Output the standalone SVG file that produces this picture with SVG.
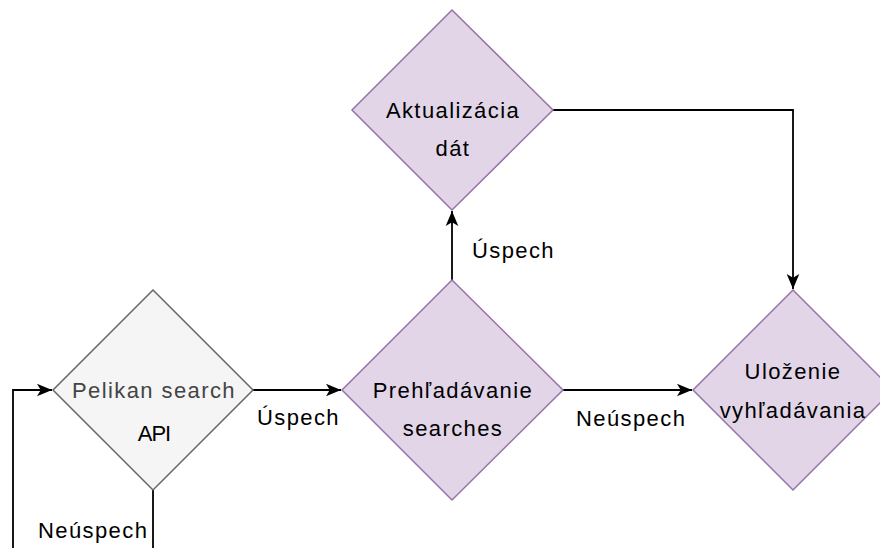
<svg xmlns="http://www.w3.org/2000/svg" width="880" height="548" viewBox="0 0 880 548">
<defs>
<style>
.txt{font-family:"Liberation Sans",Arial,sans-serif;font-size:22px;letter-spacing:1.4px;fill:#000;}
.c{text-anchor:middle;}
.purple{fill:#e1d5e7;stroke:#9673a6;stroke-width:1.5;}
.gray{fill:#f5f5f5;stroke:#666666;stroke-width:1.5;}
.edge{fill:none;stroke:#000;stroke-width:1.8;}
</style>
<marker id="arr" viewBox="0 0 10 10" refX="10" refY="5" markerWidth="15" markerHeight="15" markerUnits="userSpaceOnUse" orient="auto">
<path d="M0,0.8 L10,5 L0,9.2 L2.5,5 Z" fill="#000"/>
</marker>
</defs>
<rect width="880" height="548" fill="#fff"/>
<g id="connectors">
<polyline class="edge" points="13,548 13,390 52,390" marker-end="url(#arr)"/>
<line class="edge" x1="153" y1="490" x2="153" y2="548"/>
<line class="edge" x1="253" y1="390" x2="341" y2="390" marker-end="url(#arr)"/>
<line class="edge" x1="563" y1="390" x2="692" y2="390" marker-end="url(#arr)"/>
<line class="edge" x1="452" y1="280" x2="452" y2="211" marker-end="url(#arr)"/>
<polyline class="edge" points="553,110 793,110 793,289" marker-end="url(#arr)"/>
<text class="txt" x="472" y="258">Úspech</text>
<text class="txt" x="257" y="425">Úspech</text>
<text class="txt" x="576" y="426">Neúspech</text>
<text class="txt" x="38" y="538">Neúspech</text>
</g>
<g id="pelikan">
<polygon class="gray" points="153,290 253,390 153,490 53,390"/>
<text class="txt c" x="154" y="398" style="fill:#444">Pelikan search</text>
<text class="txt c" x="154" y="441" style="letter-spacing:-1px">API</text>
</g>
<g id="prehladavanie">
<polygon class="purple" points="452,280 563,390 452,500 342,390"/>
<text class="txt c" x="453" y="398">Prehľadávanie</text>
<text class="txt c" x="453" y="436">searches</text>
</g>
<g id="aktualizacia">
<polygon class="purple" points="452,10 553,110 452,210 352,110"/>
<text class="txt c" x="453" y="118">Aktualizácia</text>
<text class="txt c" x="453" y="156">dát</text>
</g>
<g id="ulozenie">
<polygon class="purple" points="793,290 893,390 793,490 693,390"/>
<text class="txt c" x="793" y="379">Uloženie</text>
<text class="txt c" x="793" y="418">vyhľadávania</text>
</g>
</svg>
